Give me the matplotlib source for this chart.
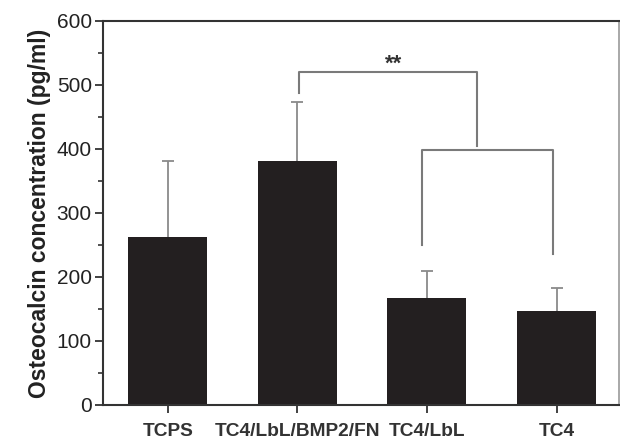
import matplotlib
matplotlib.use("Agg")
import matplotlib.pyplot as plt
from matplotlib.ticker import MultipleLocator

plt.rcParams['font.family'] = ['Liberation Sans', 'DejaVu Sans']

# data
groups = ['TCPS', 'TC4/LbL/BMP2/FN', 'TC4/LbL', 'TC4']
means = [262, 381, 167, 147]
errs = [119, 92, 42, 36]

# significance brackets (x in bar index units, y in pg/ml)
br1_x = [1.01, 1.01, 2.39, 2.39]
br1_y = [487, 520, 520, 405]
br2_x = [1.96, 1.96, 2.97, 2.97]
br2_y = [250, 398, 398, 236]
star_pos = (1.74, 516)

fig = plt.figure(figsize=(6.2, 4.46), dpi=100)
ax = fig.add_axes([0.166, 0.092, 0.832, 0.861])

x = range(len(groups))
ax.bar(x, means, width=0.61, color='#231f20', zorder=2)
eb = ax.errorbar(x, means, yerr=[[0] * len(errs), errs], fmt='none',
                 ecolor='#8a8a8a', elinewidth=1.3, capsize=4, capthick=1.3, zorder=1)
eb[1][0].set_visible(False)  # no cap at the bar top

ax.plot(br1_x, br1_y, color='#7a7a7a', lw=1.5)
ax.plot(br2_x, br2_y, color='#7a7a7a', lw=1.5)
ax.text(star_pos[0], star_pos[1], '**', ha='center', va='bottom',
        fontsize=16, fontweight='bold', color='#333333')

ax.set_xlim(-0.5, 3.48)
ax.set_ylim(0, 600)
ax.set_xticks(list(x))
ax.set_xticklabels(groups, fontsize=13.8, fontweight='bold', color='#222222')
ax.yaxis.set_major_locator(MultipleLocator(100))
ax.yaxis.set_minor_locator(MultipleLocator(50))
ax.tick_params(axis='y', labelsize=15, colors='#333333', length=6, width=1.3, pad=2)
ax.tick_params(axis='y', which='minor', length=3.5, width=1.2, colors='#333333')
ax.tick_params(axis='x', length=6, width=1.3, colors='#333333', pad=7)
for lbl in ax.get_yticklabels():
    lbl.set_color('#222222')
ax.set_ylabel('Osteocalcin concentration (pg/ml)', fontsize=16.5,
              fontweight='bold', color='#222222', labelpad=4)

for s in ['left', 'bottom', 'top']:
    ax.spines[s].set_color('#333333')
    ax.spines[s].set_linewidth(1.5)
ax.spines['right'].set_color('#999999')
ax.spines['right'].set_linewidth(1.2)

fig.savefig('out.png', dpi=100)
